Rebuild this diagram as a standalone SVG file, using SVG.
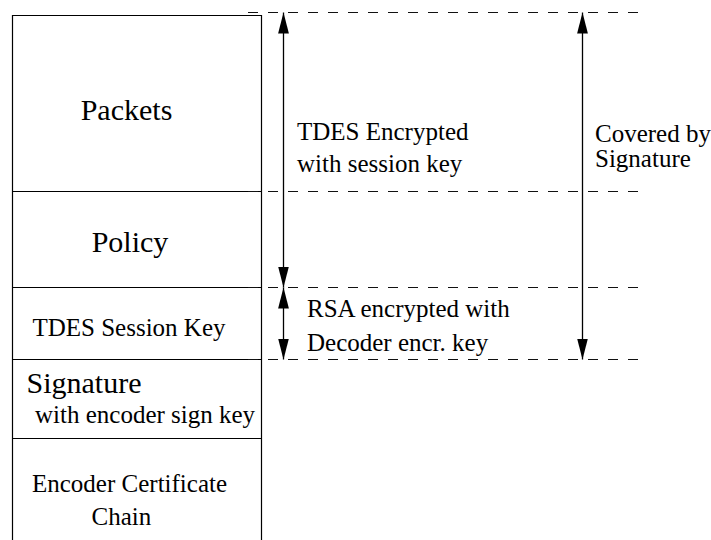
<svg xmlns="http://www.w3.org/2000/svg" width="711" height="540" viewBox="0 0 711 540">
<style>
text{font-family:'Liberation Serif','DejaVu Serif','Times New Roman',Times,serif;fill:#000}
.big{font-size:30px}
.sm{font-size:25px}
.box{fill:#fff;stroke:#000;stroke-width:1.2}
.sep{stroke:#000;stroke-width:1.2}
.dash{stroke:#111;stroke-width:1;stroke-dasharray:10 10;fill:none}
.arr{stroke:#000;stroke-width:1.3;fill:none;marker-start:url(#ah);marker-end:url(#ah)}
</style>
<defs>
<marker id="ah" markerUnits="userSpaceOnUse" markerWidth="21" markerHeight="12" viewBox="0 0 21 12" refX="21" refY="6" orient="auto-start-reverse">
<path d="M0,0.6 L21,6 L0,11.4 z" fill="#000"/>
</marker>
</defs>
<rect width="711" height="540" fill="#fff"/>
<g id="frame">
<path class="box" d="M12.5,545 V15.5 H261.5 V545"/>
</g>
<g id="packets">
<text class="big" x="126.5" y="120" text-anchor="middle">Packets</text>
</g>
<g id="policy">
<line class="sep" x1="12.5" y1="191.5" x2="261.5" y2="191.5"/>
<text class="big" x="130" y="252" text-anchor="middle">Policy</text>
</g>
<g id="session-key">
<line class="sep" x1="12.5" y1="287.5" x2="261.5" y2="287.5"/>
<text class="sm" x="129" y="336" text-anchor="middle">TDES Session Key</text>
</g>
<g id="signature">
<line class="sep" x1="12.5" y1="359.5" x2="261.5" y2="359.5"/>
<text class="big" x="26.5" y="393">Signature</text>
<text class="sm" x="35" y="423">with encoder sign key</text>
</g>
<g id="certificate">
<line class="sep" x1="12.5" y1="438.5" x2="261.5" y2="438.5"/>
<text class="sm" x="32" y="492">Encoder Certificate</text>
<text class="sm" x="91.5" y="525">Chain</text>
</g>
<g id="connectors">
<line class="dash" x1="248" y1="12.5" x2="642" y2="12.5"/>
<line class="dash" x1="248" y1="191.5" x2="642" y2="191.5"/>
<line class="dash" x1="248" y1="287.5" x2="642" y2="287.5"/>
<line class="dash" x1="248" y1="359.5" x2="642" y2="359.5"/>
<line class="arr" x1="283.5" y1="12.5" x2="283.5" y2="287.5"/>
<line class="arr" x1="283.5" y1="287.5" x2="283.5" y2="359.5"/>
<line class="arr" x1="582.5" y1="12.5" x2="582.5" y2="359.5"/>
</g>
<g id="labels">
<text class="sm" x="297" y="140">TDES Encrypted</text>
<text class="sm" x="297" y="172">with session key</text>
<text class="sm" x="307" y="317">RSA encrypted with</text>
<text class="sm" x="307" y="350.5">Decoder encr. key</text>
<text class="sm" x="595" y="142">Covered by</text>
<text class="sm" x="595" y="167">Signature</text>
</g>
</svg>
